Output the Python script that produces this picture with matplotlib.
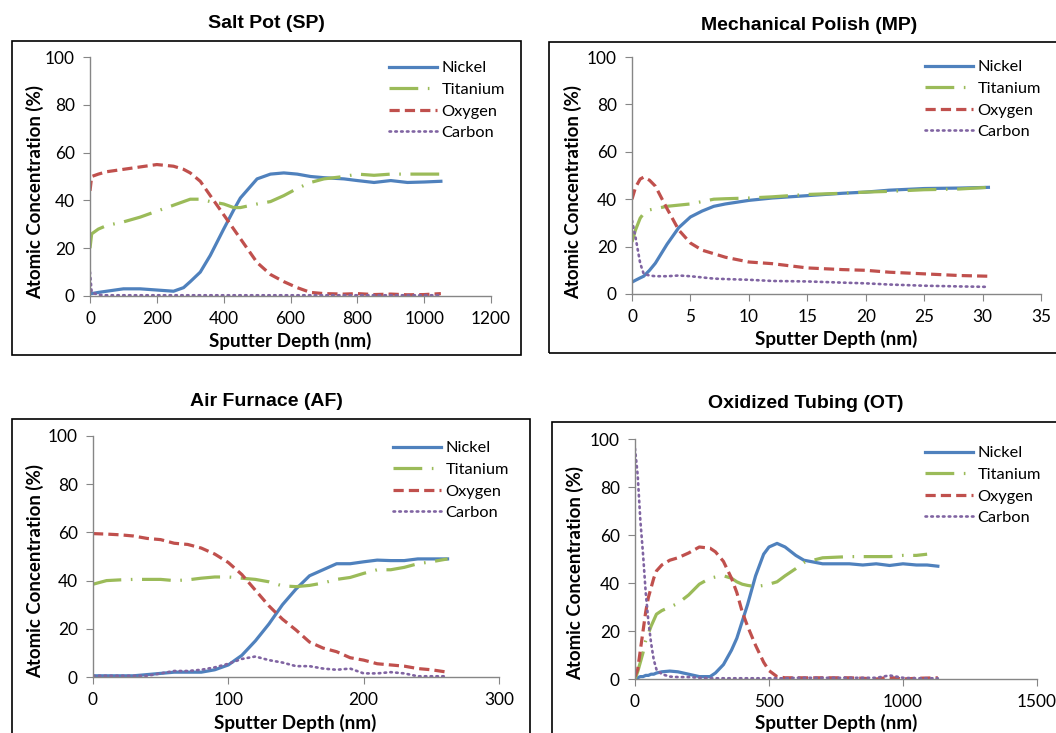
import numpy as np
import matplotlib
matplotlib.use("Agg")
import matplotlib.pyplot as plt
from matplotlib.patches import Rectangle

W, H = 1056, 733

# ---------------- data ----------------
series_names = ['Nickel', 'Titanium', 'Oxygen', 'Carbon']

# Salt Pot (SP)
sp_depth = [0, 5, 25, 50, 100, 150, 200, 250, 280, 300, 330, 360, 400, 430, 450,
            500, 540, 580, 620, 660, 700, 760, 800, 850, 900, 950, 1000, 1050]
sp_ni = [1, 1, 1.5, 2, 3, 3, 2.5, 2, 3.5, 6, 10, 17, 28, 36, 41,
         49, 51, 51.5, 51, 50, 49.5, 49, 48.3, 47.5, 48.3, 47.5, 47.7, 48]
sp_ti = [20, 26, 28, 29.5, 31, 33, 35.5, 38, 39.5, 40.5, 40.5, 39.5, 38.5, 37, 37,
         38.5, 39.5, 42, 45, 47.5, 49, 50, 51, 50.5, 51, 51, 51, 51]
sp_o = [44, 50, 51, 52, 53, 54, 55, 54.3, 53, 51.5, 48, 42, 34, 28, 24,
        14, 9, 6, 3.5, 1.5, 1, 0.8, 1, 0.6, 0.8, 0.5, 0.6, 1]
sp_c = [10, 1.5, 0.5, 0.3, 0.3, 0.3, 0.3, 0.3, 0.3, 0.3, 0.3, 0.3, 0.3, 0.3, 0.3,
        0.3, 0.3, 0.3, 0.3, 0.3, 0.3, 0.3, 0.3, 0.3, 0.3, 0.3, 0.3, 0.3]

# Mechanical Polish (MP)
mp_depth = [0, 0.3, 0.7, 1, 1.5, 2, 3, 4, 5, 6, 7, 8, 10, 12, 15, 18, 20, 22, 25, 28, 30.5]
mp_ni = [5, 5.8, 6.8, 7.5, 10, 13, 21, 28, 32.5, 35, 37, 38, 39.5, 40.5, 41.5, 42.5, 43, 43.8, 44.5, 44.7, 45]
mp_ti = [22, 27, 32, 34, 35.5, 36, 37, 37.5, 38, 39, 40, 40.2, 40.5, 41, 42, 42.5, 43, 43.3, 44, 44.3, 45]
mp_o = [40, 45, 48.5, 49.3, 48, 45.5, 36, 27, 21.5, 18.5, 17, 15.5, 13.5, 12.8, 11, 10.3, 10, 9.2, 8.5, 7.8, 7.5]
mp_c = [31, 24, 13, 8.5, 7.8, 7.5, 7.5, 7.8, 7.5, 7, 6.5, 6.3, 6, 5.5, 5.3, 4.8, 4.5, 4, 3.5, 3.2, 3]

# Air Furnace (AF)
af_depth = [0, 10, 20, 30, 40, 50, 60, 70, 80, 90, 100, 110, 120, 130, 140,
            150, 160, 170, 180, 190, 200, 210, 220, 230, 240, 250, 262]
af_ni = [0.5, 0.5, 0.5, 0.5, 1, 1.5, 2, 2, 2, 3, 5, 9, 15, 22, 30,
         36.5, 42, 44.5, 47, 47, 47.8, 48.5, 48.3, 48.3, 49, 49, 49]
af_ti = [38.5, 40, 40.3, 40.5, 40.5, 40.5, 40, 40.3, 41, 41.5, 41.5, 41, 40.5, 39.5, 37.8,
         37.5, 38, 39, 40.5, 41.3, 43, 44.5, 44.5, 45.5, 47, 47.8, 49]
af_o = [59.5, 59.3, 59, 58.5, 57.5, 57, 55.5, 55, 53.5, 51, 47.5, 42.5, 36, 29.5, 24,
        19.5, 14.5, 12, 10.5, 8, 7, 5.5, 5, 4.5, 3.5, 3, 2]
af_c = [0.5, 0.5, 0.5, 0.5, 0.5, 1.5, 2.5, 2.5, 3, 4, 5.5, 7.5, 8.5, 7, 6,
        4.5, 4.5, 3.5, 3, 3.5, 1.5, 1.5, 2, 1.5, 0.3, 0.3, 0.3]

# Oxidized Tubing (OT)
ot_depth = [0, 10, 20, 30, 40, 50, 60, 70, 80, 100, 130, 160, 200, 240, 280, 300, 330, 360,
            380, 400, 420, 450, 480, 500, 530, 560, 600, 630, 700, 800, 850, 900, 950,
            1000, 1050, 1090, 1130]
ot_ni = [0, 0.5, 1, 1, 1.5, 1.5, 2, 2, 2.5, 3, 3.3, 3, 2, 1, 1, 2.5, 6, 12,
         17, 24, 31, 43, 52, 55, 56.5, 55, 51.5, 49.5, 48, 48, 47.5, 48, 47.3,
         48, 47.5, 47.5, 47]
ot_ti = [0, 3, 7, 11, 16, 19, 22, 24.5, 27, 28.5, 30, 31.5, 35, 39.5, 42, 42.5, 43, 42,
         40.5, 39.5, 39, 38.5, 39, 39.5, 40.5, 43, 46, 48.5, 50.5, 51, 51, 51, 51,
         51.5, 51.5, 52, np.nan]
ot_o = [1, 4, 12, 20, 28, 34, 38, 42, 45, 47.5, 49.5, 50.5, 52.5, 55, 54.5, 53, 49, 42,
        36, 28, 22, 14, 7, 3.5, 1, 0.5, 0.5, 0.5, 0.5, 0.5, 0.3, 0, 0.7,
        0, 0.3, 0.4, 0.5]
ot_c = [96, 85, 66, 52, 36, 24, 15, 8, 4, 2, 1, 0.8, 0.8, 0.5, 0.3, 0.3, 0.3, 0.3,
        0.3, 0.3, 0.3, 0.3, 0.3, 0.3, 0.3, 0.3, 0.5, 0.5, 0.5, 0.5, 0.5, 0.5, 1.5,
        0.5, 0.3, 0.3, 0.3]

# ---------------- styling ----------------
colors = ['#4F81BD', '#9BBB59', '#C0504D', '#8064A2']
styles = ['-', (0, (9, 3, 0.5, 3)), (0, (3.2, 1.6)), (0, (0.6, 1.6))]
widths = [2.3, 2.3, 2.3, 1.9]

plt.rcParams['font.family'] = ['Lato', 'DejaVu Sans']


def fx(x):
    return x / W


def fy(y):
    return 1 - y / H


fig = plt.figure(figsize=(W / 100, H / 100), dpi=100)

# panel: title, data, xmax, xstep, axes box (l, t, r, b px), frame (l, t, r, b px),
# title pos, ylabel pos, xlabel pos, legend anchor
panels = [
    dict(title='Salt Pot (SP)', x=sp_depth, ys=[sp_ni, sp_ti, sp_o, sp_c], xmax=1200, xstep=200,
         box=(90, 57, 491, 296), frame=(12, 41, 521, 355), tpos=(266, 24),
         ypos=(35, 192), xpos=(290, 341), leg=(389, 61)),
    dict(title='Mechanical Polish (MP)', x=mp_depth, ys=[mp_ni, mp_ti, mp_o, mp_c], xmax=35, xstep=5,
         box=(632, 57, 1041, 294), frame=(549, 42, 1070, 353), tpos=(809, 26),
         ypos=(573, 192), xpos=(836, 339), leg=(925, 60)),
    dict(title='Air Furnace (AF)', x=af_depth, ys=[af_ni, af_ti, af_o, af_c], xmax=300, xstep=100,
         box=(93, 436, 499, 677), frame=(12, 419, 530, 760), tpos=(266, 401),
         ypos=(35, 571), xpos=(295, 723), leg=(393, 441)),
    dict(title='Oxidized Tubing (OT)', x=ot_depth, ys=[ot_ni, ot_ti, ot_o, ot_c], xmax=1500, xstep=500,
         box=(635, 439, 1037, 679), frame=(552, 422, 1070, 760), tpos=(806, 403),
         ypos=(575, 573), xpos=(836, 723), leg=(925, 446)),
]

for p in panels:
    fl, ft, fr, fb = p['frame']
    fig.patches.append(Rectangle((fx(fl), fy(fb)), fx(fr - fl), (fb - ft) / H,
                                 transform=fig.transFigure, fill=False,
                                 edgecolor='black', linewidth=1.2))

    l, t, r, b = p['box']
    ax = fig.add_axes([fx(l), fy(b), fx(r - l), (b - t) / H])
    for y, name, c, ls, lw in zip(p['ys'], series_names, colors, styles, widths):
        ax.plot(p['x'], y, color=c, linestyle=ls, linewidth=lw, label=name,
                dash_capstyle='round' if name == 'Carbon' else 'butt')

    ax.set_xlim(0, p['xmax'])
    ax.set_ylim(0, 100)
    ax.set_xticks(np.arange(0, p['xmax'] + 1, p['xstep']))
    ax.set_yticks(np.arange(0, 101, 20))
    ax.set_facecolor('none')
    for s in ['top', 'right']:
        ax.spines[s].set_visible(False)
    for s in ['left', 'bottom']:
        ax.spines[s].set_color('#868686')
        ax.spines[s].set_linewidth(1.0)
    ax.tick_params(direction='out', length=5, width=0.8, color='#868686',
                   labelsize=12.4, labelcolor='black', pad=6)

    fig.text(fx(p['tpos'][0]), fy(p['tpos'][1]), p['title'], ha='center', va='center',
             fontsize=14, fontweight='bold', family='Liberation Sans')
    fig.text(fx(p['ypos'][0]), fy(p['ypos'][1]), 'Atomic Concentration (%)', rotation=90,
             ha='center', va='center', fontsize=13.4, fontweight='bold')
    fig.text(fx(p['xpos'][0]), fy(p['xpos'][1]), 'Sputter Depth (nm)',
             ha='center', va='center', fontsize=13.6, fontweight='bold')

    ax.legend(loc='upper left', bbox_to_anchor=(fx(p['leg'][0]), fy(p['leg'][1])),
              bbox_transform=fig.transFigure, frameon=False, fontsize=11.8,
              borderaxespad=0, borderpad=0, handlelength=2.9, handletextpad=0.3,
              labelspacing=0.43)

fig.savefig('out.png', dpi=100)
